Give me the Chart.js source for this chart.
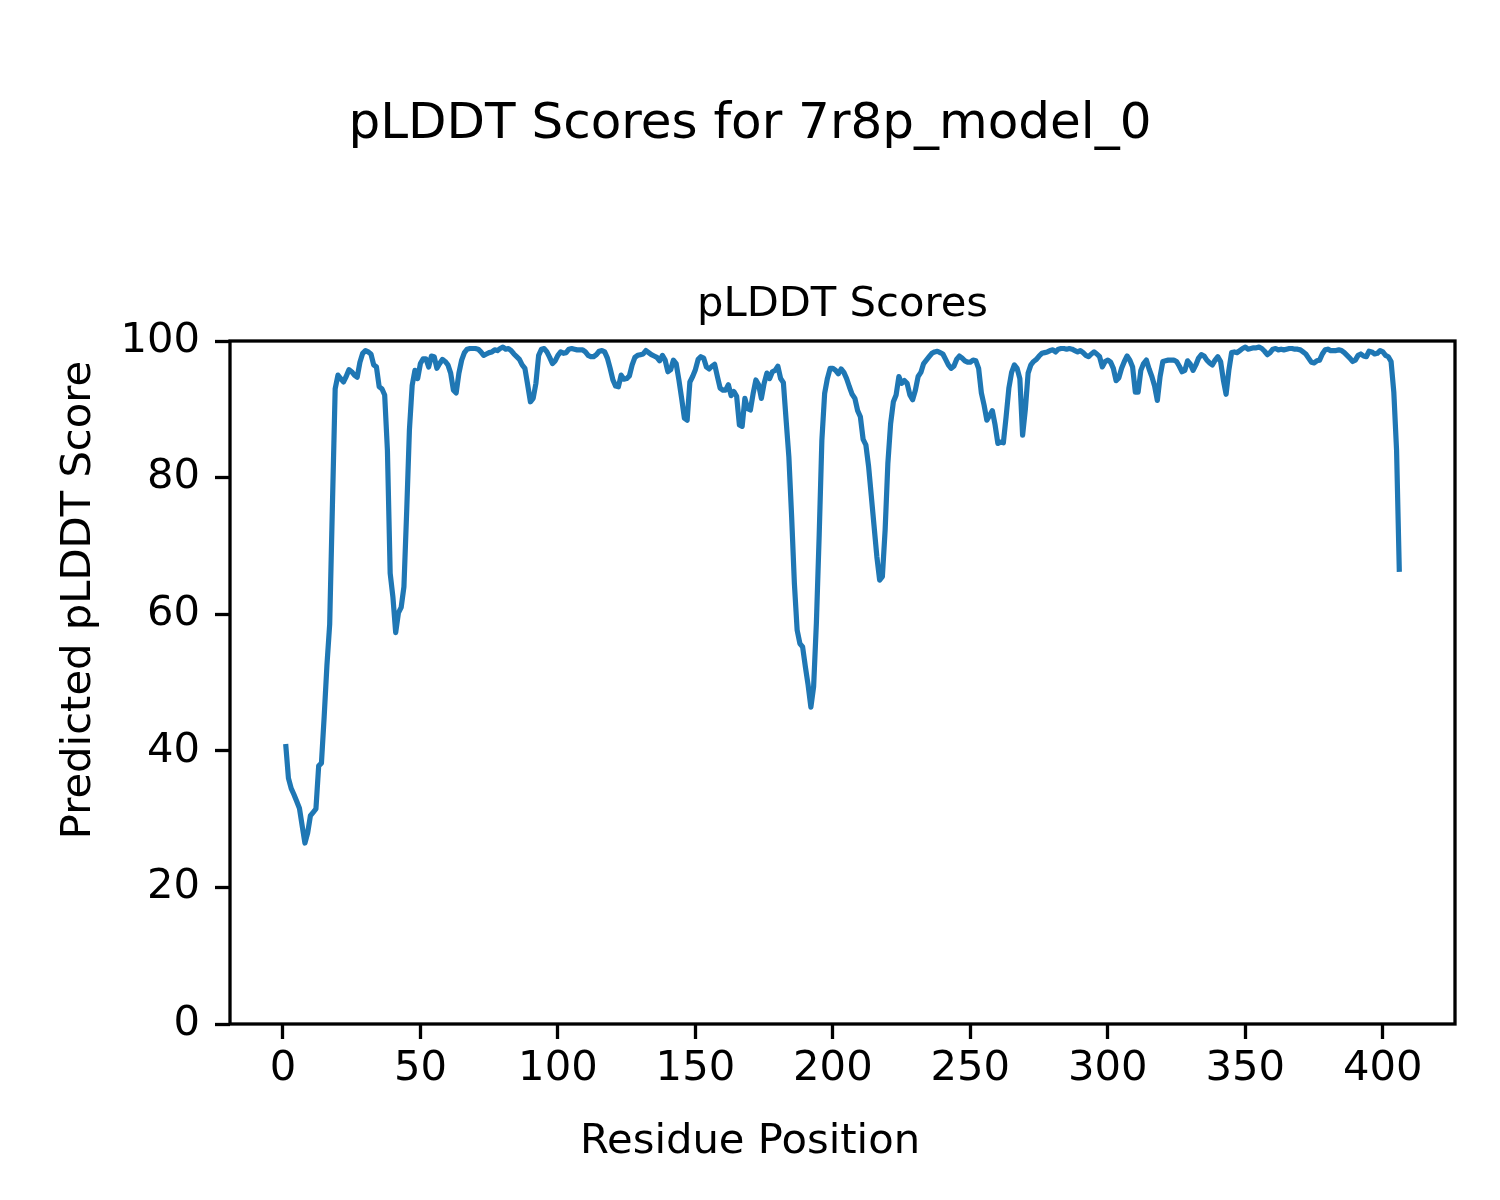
<!DOCTYPE html>
<html>
<head>
<meta charset="utf-8">
<script src="https://cdn.jsdelivr.net/npm/chart.js@4.4.1/dist/chart.umd.min.js"></script>
<style>
  html, body { margin: 0; padding: 0; background: #fff; }
</style>
</head>
<body>
<canvas id="plddtChart" width="1500" height="1200"></canvas>
<script>
// pLDDT per residue (residue 1 .. 406)
const scores = [
  41, 36, 34.5, 33.6, 32.6, 31.6, 29, 26.5, 28, 30.5,
  31, 31.5, 37.8, 38.2, 45, 52.5, 58.5, 76, 93, 95,
  94.5, 94, 94.8, 95.8, 95.5, 95, 94.7, 96.9, 98.2, 98.6,
  98.4, 98.1, 96.5, 96.2, 93.3, 93, 92.1, 84, 66, 62.5,
  57.3, 60.2, 61, 64, 75, 87, 93.5, 95.7, 94.5, 96.7,
  97.4, 97.4, 96.2, 97.8, 97.7, 96, 96.7, 97.3, 97, 96.5,
  95.3, 92.8, 92.4, 95.3, 97.2, 98.3, 98.8, 98.9, 98.9, 98.9,
  98.8, 98.4, 97.9, 98.1, 98.3, 98.4, 98.7, 98.6, 98.9, 99.1,
  98.8, 98.9, 98.6, 98.1, 97.7, 97.3, 96.5, 96, 93.6, 91.1,
  91.6, 93.8, 97.9, 98.8, 98.9, 98.4, 97.6, 96.7, 97.1, 97.9,
  98.4, 98.2, 98.3, 98.8, 98.9, 98.8, 98.7, 98.7, 98.7, 98.4,
  97.9, 97.7, 97.7, 98, 98.5, 98.6, 98.4, 97.5, 96, 94.3,
  93.4, 93.3, 95, 94.4, 94.5, 94.9, 96.5, 97.6, 97.9, 98,
  98.1, 98.6, 98.3, 98, 97.8, 97.6, 97.1, 97.9, 97.2, 95.5,
  95.8, 97.2, 96.7, 94.3, 91.6, 88.7, 88.4, 94, 94.8, 95.8,
  97.3, 97.7, 97.5, 96.2, 95.9, 96.3, 96.6, 94.8, 93.1, 92.8,
  92.8, 93.6, 92, 92.6, 91.9, 87.7, 87.5, 91.6, 90.1, 89.9,
  92.3, 94.3, 93.6, 91.6, 93.8, 95.3, 94.5, 95.5, 95.7, 96.3,
  94.5, 93.9, 88.4, 83, 74.3, 64.5, 57.7, 55.7, 55.2, 52.3,
  49.6, 46.4, 49.4, 58.7, 71.3, 85.5, 92.3, 94.5, 96, 96,
  95.7, 95.2, 95.9, 95.4, 94.5, 93.3, 92.2, 91.6, 89.8, 88.9,
  85.6, 84.8, 81.6, 77.2, 72.8, 68.4, 65, 65.5, 72.3, 82.1,
  87.9, 91.1, 92.1, 94.8, 93.8, 94.2, 93.8, 92.1, 91.4, 92.8,
  94.8, 95.4, 96.7, 97.2, 97.7, 98.2, 98.4, 98.5, 98.3, 98.1,
  97.3, 96.5, 96, 96.3, 97.3, 97.8, 97.5, 97.1, 96.9, 96.9,
  97.2, 97.1, 96, 92.4, 90.6, 88.4, 89.1, 89.8, 87.7, 85,
  85.2, 85.1, 88.9, 93.1, 95.4, 96.5, 96, 94.5, 86.2, 90,
  95.3, 96.5, 97, 97.3, 97.8, 98.2, 98.3, 98.4, 98.6, 98.7,
  98.4, 98.8, 98.9, 98.9, 98.8, 98.9, 98.8, 98.6, 98.4, 98.6,
  98.3, 97.9, 97.7, 98.1, 98.4, 98.1, 97.7, 96.2, 97, 97.2,
  96.9, 96, 94.2, 94.6, 96, 97, 97.8, 97.2, 96.2, 92.5,
  92.5, 95.7, 96.7, 97.2, 95.9, 94.8, 93.4, 91.3, 94.8, 97,
  97.1, 97.2, 97.2, 97.2, 97, 96.3, 95.5, 95.7, 97.1, 96.6,
  95.7, 96.5, 97.5, 98, 97.8, 97.2, 96.8, 96.5, 97.2, 97.7,
  97, 94.3, 92.2, 95.7, 98.3, 98.4, 98.3, 98.6, 98.9, 99.1,
  98.8, 98.9, 99, 99, 99.1, 98.9, 98.5, 98, 98.3, 98.8,
  98.9, 98.7, 98.8, 98.7, 98.8, 98.9, 98.9, 98.8, 98.8, 98.7,
  98.4, 98.1, 97.5, 96.9, 96.8, 97.1, 97.2, 98.1, 98.7, 98.8,
  98.6, 98.6, 98.6, 98.7, 98.6, 98.3, 97.9, 97.5, 97, 97.2,
  97.9, 98.1, 97.8, 97.7, 98.5, 98.4, 98.1, 98.2, 98.6, 98.4,
  97.9, 97.7, 97, 92.5, 84, 66.2
];

const xTicks = [0, 50, 100, 150, 200, 250, 300, 350, 400];
const yTicks = [0, 20, 40, 60, 80, 100];

const figTitle = 'pLDDT Scores for 7r8p_model_0';
const axTitle = 'pLDDT Scores';
const xLabel = 'Residue Position';
const yLabel = 'Predicted pLDDT Score';

// residue numbers start at 1
const points = scores.map((s, i) => ({ x: i + 1, y: s }));

const FONT = '"DejaVu Sans", "Liberation Sans", sans-serif';
const tickFont = { family: FONT, size: 41.7 };

// spines + titles, drawn the matplotlib way
const framePlugin = {
    id: 'frame',
    afterDraw(chart) {
        const { ctx, chartArea: a } = chart;
        ctx.save();
        ctx.strokeStyle = '#000';
        ctx.lineWidth = 3.3;
        ctx.strokeRect(a.left, a.top, a.right - a.left, a.bottom - a.top);

        ctx.fillStyle = '#000';
        ctx.textAlign = 'center';
        ctx.textBaseline = 'alphabetic';
        ctx.font = '50px ' + FONT;
        ctx.fillText(figTitle, 750, 138);

        ctx.font = '41.7px ' + FONT;
        ctx.fillText(axTitle, (a.left + a.right) / 2, 316);
        ctx.fillText(xLabel, 750, 1153);

        ctx.translate(90, 600);
        ctx.rotate(-Math.PI / 2);
        ctx.fillText(yLabel, 0, 0);
        ctx.restore();
    }
};

const ctx = document.getElementById('plddtChart').getContext('2d');
new Chart(ctx, {
    type: 'line',
    data: {
        datasets: [{
            data: points,
            borderColor: '#1f77b4',
            borderWidth: 5.2,
            pointRadius: 0,
            tension: 0,
            borderJoinStyle: 'round',
            fill: false
        }]
    },
    options: {
        responsive: false,
        animation: false,
        devicePixelRatio: 1,
        layout: { padding: { top: 341, right: 45, bottom: 0, left: 0 } },
        plugins: {
            legend: { display: false },
            tooltip: { enabled: false }
        },
        scales: {
            x: {
                type: 'linear',
                min: -19.25,
                max: 426.25,
                afterBuildTicks: s => { s.ticks = xTicks.map(v => ({ value: v })); },
                afterFit: s => { s.height = 176; },
                border: { display: false },
                grid: {
                    drawOnChartArea: false,
                    drawTicks: true,
                    tickLength: 15,
                    tickWidth: 3.3,
                    tickColor: '#000'
                },
                ticks: {
                    color: '#000',
                    font: tickFont,
                    padding: 5,
                    maxRotation: 0,
                    autoSkip: false
                }
            },
            y: {
                min: 0,
                max: 100,
                afterBuildTicks: s => { s.ticks = yTicks.map(v => ({ value: v })); },
                afterFit: s => { s.width = 230; },
                border: { display: false },
                grid: {
                    drawOnChartArea: false,
                    drawTicks: true,
                    tickLength: 15,
                    tickWidth: 3.3,
                    tickColor: '#000'
                },
                ticks: {
                    color: '#000',
                    font: tickFont,
                    padding: 15
                }
            }
        }
    },
    plugins: [framePlugin]
});
</script>
</body>
</html>
